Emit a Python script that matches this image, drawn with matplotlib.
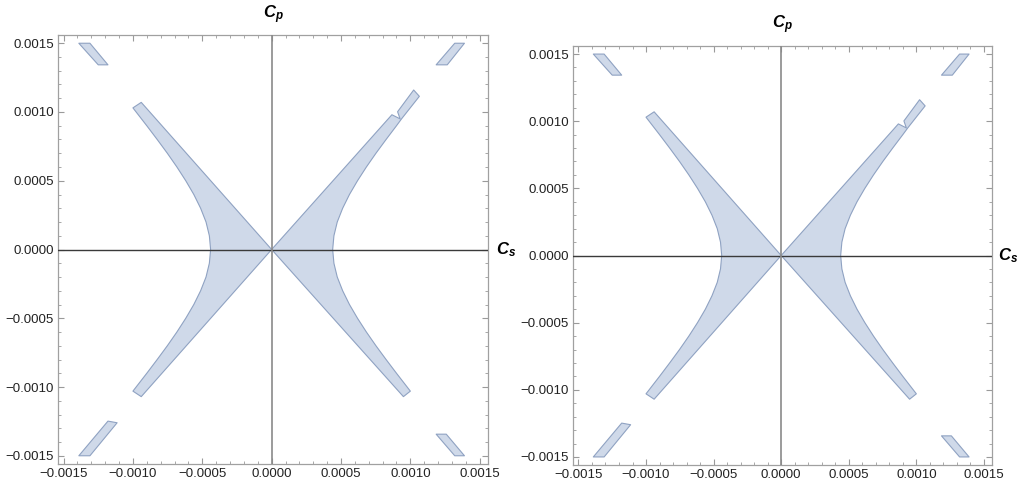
import matplotlib
matplotlib.use("Agg")
import matplotlib.pyplot as plt
from matplotlib.patches import Polygon
from matplotlib.ticker import MultipleLocator, FuncFormatter

plt.rcParams['font.family'] = ['Liberation Sans', 'DejaVu Sans']
plt.rcParams['mathtext.fontset'] = 'custom'
plt.rcParams['mathtext.rm'] = 'Liberation Sans:bold'
plt.rcParams['mathtext.it'] = 'Liberation Sans:italic:bold'

# outer (hyperbola-like) edge of the allowed region, first quadrant
outer_y = [0.0, 0.0001, 0.0002, 0.0003, 0.0004, 0.0005, 0.0006, 0.0007, 0.0008, 0.0009]
outer_x = [0.00044, 0.000449, 0.000473, 0.000512, 0.000561, 0.000619, 0.000683, 0.000752, 0.000825, 0.0009]

# cut ends of the four arms: (outer corner, inner corner)
tip_ul = [(-0.00100, 0.00103), (-0.00094, 0.00107)]
tip_ll = [(-0.00100, -0.00103), (-0.00094, -0.00107)]
tip_lr = [(0.00100, -0.00103), (0.00095, -0.00107)]
# upper right arm with the notched extra piece
tip_ur = [(0.000938, 0.000952), (0.001065, 0.001114), (0.001024, 0.00116),
          (0.000908, 0.001002), (0.000926, 0.000950), (0.000867, 0.00098)]

# small islands near the corners
island_ul = [(-0.00139, 0.0015), (-0.00131, 0.0015), (-0.00118, 0.001343), (-0.00125, 0.001343)]
island_ur = [(0.00132, 0.0015), (0.00139, 0.0015), (0.001266, 0.001343), (0.001186, 0.001343)]
island_ll = [(-0.00139, -0.0015), (-0.00131, -0.0015), (-0.001114, -0.00126), (-0.00118, -0.001248)]
island_lr = [(0.001186, -0.001343), (0.001259, -0.001343), (0.00139, -0.0015), (0.00132, -0.0015)]

FILL = '#cfd9e9'
EDGE = '#8fa2c2'


def right_region():
    pts = [(0.0, 0.0)]
    pts += [tip_lr[1], tip_lr[0]]
    lower = [(x, -y) for x, y in zip(outer_x, outer_y)][::-1]
    upper = [(x, y) for x, y in zip(outer_x, outer_y)][1:]
    pts += lower + upper
    pts += tip_ur
    return pts


def left_region():
    pts = [(0.0, 0.0)]
    pts += [tip_ul[1], tip_ul[0]]
    upper = [(-x, y) for x, y in zip(outer_x, outer_y)][::-1]
    lower = [(-x, -y) for x, y in zip(outer_x, outer_y)][1:]
    pts += upper + lower
    pts += [tip_ll[0], tip_ll[1]]
    return pts


def fmt(v, pos):
    s = '%.4f' % abs(v)
    return ('\u2212' + s) if v < -1e-12 else s


def draw_panel(ax, cp_y, cs_dx):
    for shape in [right_region(), left_region(), island_ul, island_ur, island_ll, island_lr]:
        ax.add_patch(Polygon(shape, closed=True, facecolor=FILL, edgecolor=EDGE,
                             linewidth=0.8, joinstyle='round'))
    ax.axhline(0, color='#3a3a3a', linewidth=1.0, zorder=3)
    ax.axvline(0, color='#8a8a8a', linewidth=1.2, zorder=3)
    ax.set_xlim(-0.00154, 0.00156)
    ax.set_ylim(-0.00156, 0.00156)
    ax.xaxis.set_major_locator(MultipleLocator(0.0005))
    ax.yaxis.set_major_locator(MultipleLocator(0.0005))
    ax.xaxis.set_minor_locator(MultipleLocator(0.0001))
    ax.yaxis.set_minor_locator(MultipleLocator(0.0001))
    ax.xaxis.set_major_formatter(FuncFormatter(fmt))
    ax.yaxis.set_major_formatter(FuncFormatter(fmt))
    ax.tick_params(which='both', direction='in', top=True, right=True, color='#9a9a9a',
                   labelsize=9.5, labelcolor='#222222')
    ax.tick_params(which='major', length=4.5, width=0.8, pad=3)
    ax.tick_params(which='minor', length=2.5, width=0.6)
    for sp in ax.spines.values():
        sp.set_color('#a0a0a0')
        sp.set_linewidth(0.9)
    ax.text(0.5, cp_y, r'$C_p$', transform=ax.transAxes, ha='center', va='bottom', fontsize=12)
    ax.annotate(r'$C_s$', xy=(1.0, 0.0), xycoords=('axes fraction', 'data'),
                xytext=(cs_dx, 0), textcoords='offset points', ha='left', va='center', fontsize=12)


fig = plt.figure(figsize=(10.18, 4.8), dpi=100)
ax1 = fig.add_axes([0.0570, 0.0333, 0.4224, 0.8938])
ax2 = fig.add_axes([0.5629, 0.03125, 0.4116, 0.8729])
draw_panel(ax1, 1.02, 6)
draw_panel(ax2, 1.025, 4)

fig.savefig('out.png', dpi=100)
